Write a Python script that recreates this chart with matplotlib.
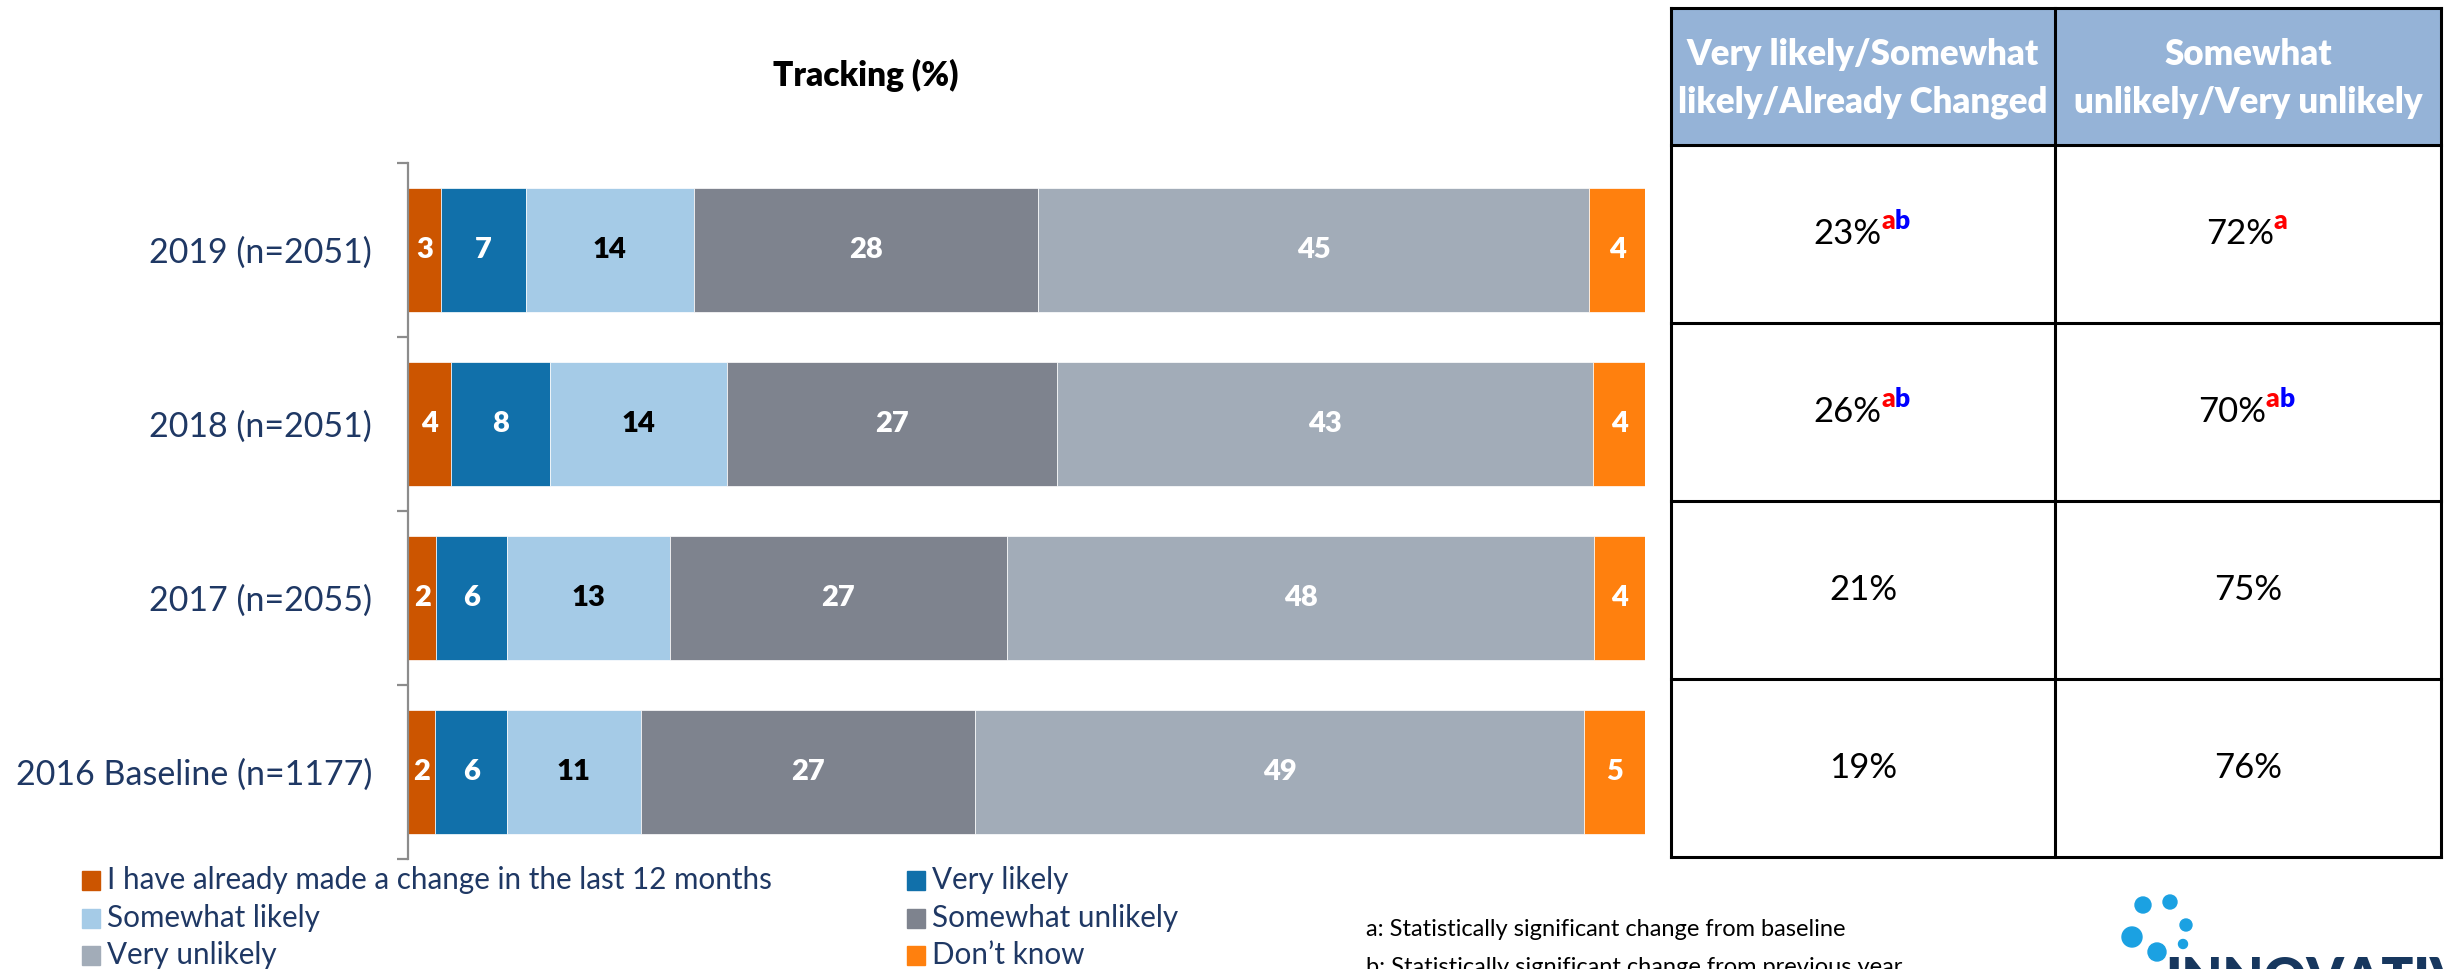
import numpy as np
import matplotlib
matplotlib.use("Agg")
import matplotlib.pyplot as plt
from matplotlib.patches import Rectangle, Circle

plt.rcParams['font.family'] = ['Lato', 'DejaVu Sans']

# data
years = ["2019 (n=2051)", "2018 (n=2051)", "2017 (n=2055)", "2016 Baseline (n=1177)"]
series = ["I have already made a change in the last 12 months", "Very likely",
          "Somewhat likely", "Somewhat unlikely", "Very unlikely", "Don\u2019t know"]
colors = ["#CC5500", "#1170AA", "#A5CBE7", "#7E838E", "#A2ACB8", "#FF800E"]
label_colors = ["white", "white", "black", "white", "white", "white"]

# printed labels
labels = [[3, 7, 14, 28, 45, 4],
          [4, 8, 14, 27, 43, 4],
          [2, 6, 13, 27, 48, 4],
          [2, 6, 11, 27, 49, 5]]
# segment widths as measured on the bars (unrounded shares)
widths = [[2.7, 6.8, 13.6, 27.8, 44.6, 4.5],
          [3.5, 8.0, 14.3, 26.7, 43.3, 4.2],
          [2.3, 5.7, 13.2, 27.2, 47.5, 4.1],
          [2.2, 5.8, 10.8, 27.0, 49.3, 4.9]]

tab_head = ["Very likely/Somewhat\nlikely/Already Changed", "Somewhat\nunlikely/Very unlikely"]
tab_likely = ["23%", "26%", "21%", "19%"]
tab_unlikely = ["72%", "70%", "75%", "76%"]
sup_likely = ["ab", "ab", "", ""]
sup_unlikely = ["a", "ab", "", ""]

notes = ["a: Statistically significant change from baseline",
         "b: Statistically significant change from previous year"]

W, H = 2447, 969
fig = plt.figure(figsize=(W / 100, H / 100), dpi=100)

# ---- stacked bars
ax = fig.add_axes([408 / W, 1 - 859 / H, 1237 / W, 696 / H])
ypos = np.arange(len(years))
for i in range(len(years)):
    left = 0
    for j in range(len(series)):
        w = widths[i][j]
        ax.barh(ypos[i], w, left=left, height=0.713, color=colors[j],
                edgecolor="white", linewidth=0.5)
        ax.text(left + w / 2, ypos[i], str(labels[i][j]), ha="center", va="center",
                color=label_colors[j], fontsize=21, fontweight="heavy")
        left += w

ax.set_xlim(0, 100)
ax.set_ylim(len(years) - 0.5, -0.5)
ax.set_xticks([])
for s in ["top", "right", "bottom"]:
    ax.spines[s].set_visible(False)
ax.spines["left"].set_color("#8C8C8C")
ax.spines["left"].set_linewidth(1.6)
ax.set_yticks(ypos)
ax.set_yticklabels(years, fontsize=24.5, color="#1F3864")
ax.tick_params(axis="y", which="major", length=0, pad=26)
ax.set_yticks(np.arange(len(years) + 1) - 0.5, minor=True)
ax.tick_params(axis="y", which="minor", length=8, width=1.6, color="#8C8C8C", direction="out")

# ---- overlay in pixel units for title, legend, table, notes
ov = fig.add_axes([0, 0, 1, 1], zorder=5)
ov.set_xlim(0, W)
ov.set_ylim(H, 0)
ov.axis("off")

ov.text(866, 75, "Tracking (%)", ha="center", va="center", fontsize=24, fontweight="heavy")

# legend, two columns
leg_x = [82, 907]
leg_y = [880, 918, 955]
for k in range(len(series)):
    cx = leg_x[k % 2]
    cy = leg_y[k // 2]
    ov.add_patch(Rectangle((cx, cy - 9.5), 18, 19, color=colors[k], clip_on=False))
    ov.text(cx + 25, cy, series[k], ha="left", va="center", fontsize=21.3, color="#1F3864")

# table
tx = [1671, 2055, 2441]
ty = [8, 145, 323, 501, 679, 857]
ov.add_patch(Rectangle((tx[0], ty[0]), tx[2] - tx[0], ty[1] - ty[0], color="#95B3D7", zorder=1))
for x in tx:
    ov.plot([x, x], [ty[0], ty[-1]], color="black", lw=2.2, zorder=2, solid_capstyle="projecting")
for y in ty:
    ov.plot([tx[0], tx[2]], [y, y], color="black", lw=2.2, zorder=2, solid_capstyle="projecting")
for c in range(2):
    ov.text((tx[c] + tx[c + 1]) / 2, (ty[0] + ty[1]) / 2 + 2, tab_head[c], ha="center", va="center",
            fontsize=25, fontweight="heavy", color="white", linespacing=1.55, zorder=3)

sup_col = {"a": "#FF0000", "b": "#0000FF"}
for c, (vals, sups) in enumerate([(tab_likely, sup_likely), (tab_unlikely, sup_unlikely)]):
    cx = (tx[c] + tx[c + 1]) / 2
    for r in range(len(vals)):
        cy = (ty[r + 1] + ty[r + 2]) / 2
        shift = 8 * len(sups[r])
        t = ov.text(cx - shift, cy, vals[r], ha="center", va="center", fontsize=25, zorder=3)
        prev = t
        for n, ch in enumerate(sups[r]):
            prev = ov.annotate(ch, xy=(1, 0), xycoords=prev, xytext=(0, 12 if n == 0 else 0),
                               textcoords="offset points", ha="left", va="bottom",
                               fontsize=19, fontweight="heavy", color=sup_col[ch], zorder=3)

# footnotes
ov.text(1366, 929, notes[0], ha="left", va="center", fontsize=17)
ov.text(1366, 967, notes[1], ha="left", va="center", fontsize=17)

# logo
dots = [(2143, 905, 8), (2170, 902, 7), (2186, 925, 6), (2132, 937, 10), (2183, 944, 4.5), (2157, 952, 9)]
for x, y, r in dots:
    ov.add_patch(Circle((x, y), r, color="#1BA1E2", clip_on=False))
ov.text(2165, 956, "INNOVATIVE", ha="left", va="top", fontsize=38, fontweight="heavy", color="#17375E")

fig.savefig("out.png", dpi=100)
